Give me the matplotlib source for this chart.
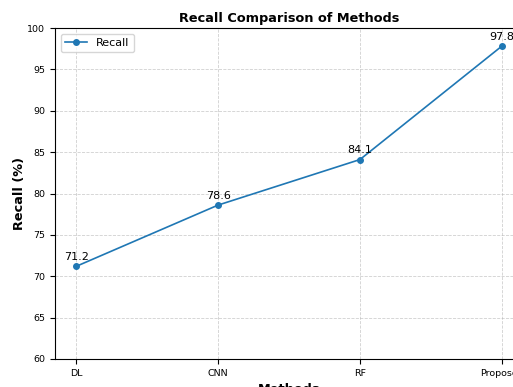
import matplotlib.pyplot as plt

# Data
methods = ['DL', 'CNN', 'RF', 'Proposed']
recall = [71.2, 78.6, 84.1, 97.8]

fig = plt.figure(figsize=(5.13, 3.87), dpi=100)
# axes runs past the right/bottom edge like the cropped reference
ax = fig.add_axes([55 / 513, 1 - 359 / 387, 468 / 513, 331 / 387])

ax.plot(methods, recall, marker='o', markersize=4, linewidth=1.2,
        color='tab:blue', label='Recall')

for i, v in enumerate(recall):
    ax.annotate(f"{v}", (i, v), textcoords='offset points', xytext=(0, 3),
                ha='center', va='bottom', fontsize=8)

ax.set_ylim(60, 100)
ax.set_yticks(range(60, 101, 5))
ax.tick_params(labelsize=6.8)
ax.grid(True, linestyle='--', alpha=0.6, linewidth=0.6)

ax.set_title("Recall Comparison of Methods", fontsize=9.3, fontweight='bold', pad=4)
ax.set_xlabel("Methods", fontsize=9.3, fontweight='bold')
ax.set_ylabel("Recall (%)", fontsize=9.3, fontweight='bold', labelpad=1)
ax.legend(loc='upper left', fontsize=8)

fig.savefig('out.png', dpi=100)
